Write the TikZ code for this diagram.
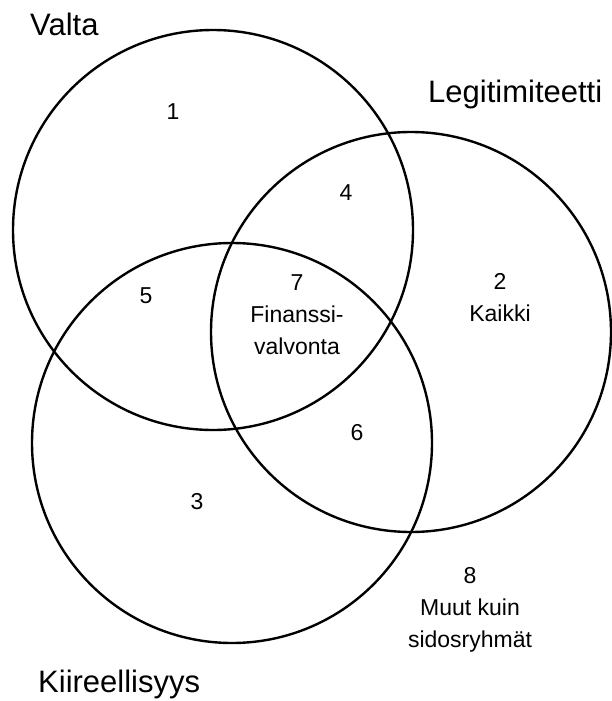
\documentclass[tikz,border=0pt]{standalone}
\usepackage{fontspec}
\setmainfont{Liberation Sans}
\usepackage{tikz}
\tikzset{ring/.style = {circle, draw=black, line width=2.4pt, minimum size=400pt, inner sep=0pt}}
\tikzset{title/.style = {font=\fontsize{31}{36}\selectfont, inner sep=0pt, anchor=base west}}
\tikzset{area/.style = {font=\fontsize{23}{32}\selectfont, align=center, inner sep=0pt, anchor=base}}

\begin{document}
\begin{tikzpicture}[x=1pt, y=-1pt]
        \useasboundingbox (0,0) rectangle (611,701);

        % the three sets
        \node [ring] (V) at (213, 230) {};
        \node [ring] (L) at (411, 332) {};
        \node [ring] (K) at (232, 443) {};

        \node [title] (tV) at ( 30,  36) {Valta};
        \node [title] (tL) at (428, 102) {Legitimiteetti};
        \node [title] (tK) at ( 38, 692) {Kiireellisyys};

        % regions (base = last line)
        \node [area] (a1) at (173, 119) {1};
        \node [area] (a2) at (500, 321) {2\\Kaikki};
        \node [area] (a3) at (197, 509) {3};
        \node [area] (a4) at (346, 200) {4};
        \node [area] (a5) at (146, 303) {5};
        \node [area] (a6) at (357, 440) {6};
        \node [area] (a7) at (297, 354) {7\\Finanssi-\\valvonta};
        \node [area] (a8) at (470, 647) {8\\Muut kuin\\sidosryhmät};
    \end{tikzpicture}
\end{document}
